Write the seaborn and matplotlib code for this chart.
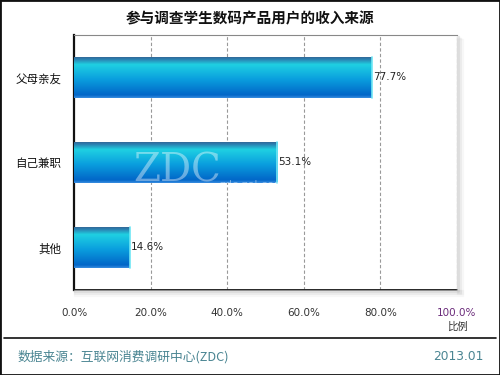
import numpy as np
import pandas as pd
import matplotlib
matplotlib.use("Agg")
import matplotlib.pyplot as plt
import seaborn as sns
from matplotlib.colors import LinearSegmentedColormap

# data
sources = ["父母亲友", "自己兼职", "其他"]
shares = [77.7, 53.1, 14.6]
x_ticks = [0, 20, 40, 60, 80, 100]

title = "参与调查学生数码产品用户的收入来源"
source_note = "数据来源：互联网消费调研中心(ZDC)"
date_note = "2013.01"

sns.set_theme(style="white")
plt.rcParams['font.family'] = ['Noto Sans CJK SC', 'DejaVu Sans']

df = pd.DataFrame({"source": sources, "share": shares})

fig = plt.figure(figsize=(5, 3.75), dpi=100)
ax = fig.add_axes([0.148, 0.2267, 0.766, 0.68])

sns.barplot(data=df, x="share", y="source", orient="h", width=0.49,
            color="#0a9ad8", ax=ax, zorder=3)

# gradient fill on each bar
cmap = LinearSegmentedColormap.from_list(
    "bar", [(0.0, "#355f8c"), (0.07, "#2c7cae"), (0.2, "#1fd0e2"),
            (0.55, "#0a9fde"), (0.93, "#0266c8"), (1.0, "#3a8ee0")])
grad = np.linspace(0, 1, 256).reshape(-1, 1)
for p in ax.patches:
    x0, y0 = p.get_x(), p.get_y()
    w, h = p.get_width(), p.get_height()
    p.set_facecolor("none")
    p.set_edgecolor("none")
    im = ax.imshow(grad, cmap=cmap, aspect="auto", extent=[x0, x0 + w, y0 + h, y0],
                   zorder=3, interpolation="bilinear")
    im.set_clip_path(p)
    ax.plot([x0 + w, x0 + w], [y0, y0 + h], color="#6fe6f5", lw=1.2, zorder=4)
    ax.text(x0 + w + 0.3, y0 + h / 2, f"{w:.1f}%", va="center", ha="left",
            fontsize=7.5, color="#222222", zorder=5, family=['DejaVu Sans'])

ax.set_xlim(0, 100)
ax.set_ylim(2.5, -0.5)
ax.set_xticks(x_ticks)
ax.set_xticklabels([f"{t:.1f}%" for t in x_ticks], fontsize=7.5, color="#333333",
                   family=['DejaVu Sans'])
ax.get_xticklabels()[-1].set_color("#6a2a7a")
ax.tick_params(axis="x", length=0, pad=13)
ax.tick_params(axis="y", length=0, pad=9, labelsize=8.3, labelcolor="#111111")
ax.set_yticks([0.5, 1.5], minor=True)
ax.tick_params(axis="y", which="minor", length=3, direction="in", width=1, color="#111111")
ax.set_xlabel("")
ax.set_ylabel("")

for t in x_ticks[1:]:
    ax.axvline(t, color="#999999", lw=0.8, ls=(0, (3, 2)), zorder=1)

ax.spines["left"].set_color("#111111")
ax.spines["left"].set_linewidth(1.6)
ax.spines["bottom"].set_color("#111111")
ax.spines["bottom"].set_linewidth(1.4)
ax.spines["top"].set_color("#888888")
ax.spines["top"].set_linewidth(0.8)
ax.spines["right"].set_visible(False)

# shadow on right/bottom of the plot area
pos = ax.get_position()
for i, a in enumerate([0.35, 0.2, 0.1]):
    d = (i + 1) * 0.004
    fig.patches.append(plt.Rectangle((pos.x1, pos.y0 - d), d, pos.height, transform=fig.transFigure,
                                     color="#cccccc", alpha=a, zorder=0))
    fig.patches.append(plt.Rectangle((pos.x0, pos.y0 - d * 1.33), pos.width + d, d * 1.33,
                                     transform=fig.transFigure, color="#cccccc", alpha=a, zorder=0))

ax.text(1.0, -0.125, "比例", transform=ax.transAxes, ha="center", va="top",
        fontsize=7.5, color="#333333")

# watermark
ax.text(27, 1.1, "ZDC", fontsize=28, color="white", alpha=0.4, ha="center", va="center",
        family=['DejaVu Serif'], zorder=6)
ax.text(38, 1.27, "zdc.zol.com.cn", fontsize=8, color="white", alpha=0.4, ha="left",
        va="center", zorder=6, family=['DejaVu Sans'])

fig.text(0.5, 0.952, title, ha="center", va="center", fontsize=10.5, fontweight="bold",
         color="#111111")
fig.add_artist(plt.Line2D([0.008, 0.992], [1 - 338 / 375] * 2, color="#111111", lw=1.2))
fig.text(0.036, 1 - 357 / 375, source_note, ha="left", va="center", fontsize=9.2,
         color="#4a8592")
fig.text(0.968, 1 - 357 / 375, date_note, ha="right", va="center", fontsize=8.8,
         color="#4a8592", family=['DejaVu Sans'])
fig.patches.append(plt.Rectangle((0, 0), 1, 1, transform=fig.transFigure, fill=False,
                                 edgecolor="#111111", lw=2))

fig.savefig("out.png", dpi=100)
